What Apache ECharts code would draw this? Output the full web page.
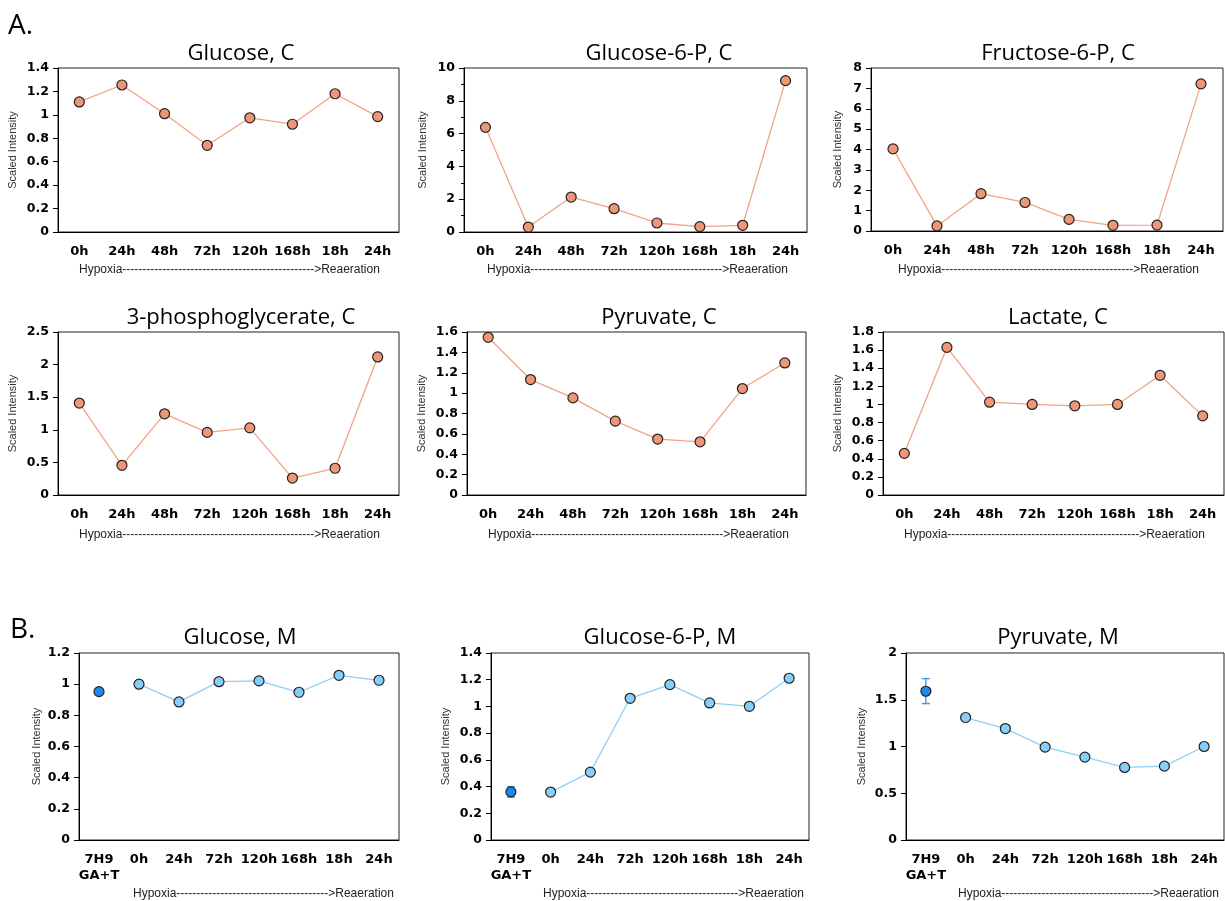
<!DOCTYPE html>
<html><head><meta charset="utf-8">
<script src="https://cdn.jsdelivr.net/npm/echarts@6/dist/echarts.min.js"></script>
<style>html,body{margin:0;padding:0;background:#fff}#c{width:1225px;height:901px}</style>
</head><body><div id="c"></div>
<script>
// ---- data ----
const catsC = ['0h','24h','48h','72h','120h','168h','18h','24h'];
const catsM = ['7H9\nGA+T','0h','24h','72h','120h','168h','18h','24h'];

const glucoseC   = [1.11, 1.255, 1.01, 0.74, 0.975, 0.92, 1.18, 0.985];
const g6pC       = [6.38, 0.30, 2.13, 1.42, 0.55, 0.33, 0.41, 9.23];
const f6pC       = [4.03, 0.25, 1.83, 1.40, 0.57, 0.28, 0.29, 7.22];
const pgaC       = [1.41, 0.455, 1.245, 0.96, 1.03, 0.26, 0.41, 2.117];
const pyruvateC  = [1.548, 1.133, 0.953, 0.725, 0.549, 0.522, 1.045, 1.296];
const lactateC   = [0.46, 1.63, 1.025, 1.0, 0.985, 1.0, 1.322, 0.874];

const glucoseM   = [1.0, 0.886, 1.016, 1.021, 0.948, 1.057, 1.025];
const g6pM       = [0.359, 0.508, 1.061, 1.163, 1.026, 1.001, 1.211];
const pyruvateM  = [1.31, 1.192, 0.993, 0.886, 0.776, 0.79, 1.0];
// 7H9 GA+T reference: [mean, low, high]
const glucoseM7H9  = [0.952, 0.952, 0.952];
const g6pM7H9      = [0.36, 0.32, 0.40];
const pyruvateM7H9 = [1.591, 1.459, 1.726];

const titles = ['Glucose, C','Glucose-6-P, C','Fructose-6-P, C','3-phosphoglycerate, C','Pyruvate, C','Lactate, C','Glucose, M','Glucose-6-P, M','Pyruvate, M'];
const yMax = [1.4, 10, 8, 2.5, 1.6, 1.8, 1.2, 1.4, 2];
const yStep = [0.2, 2, 1, 0.5, 0.2, 0.2, 0.2, 0.2, 0.5];

// ---- layout ----
const grids = [
  {left:58, top:68, width:341, height:164},
  {left:464, top:68, width:343, height:164},
  {left:871, top:68, width:352, height:163},
  {left:58, top:332, width:341, height:163},
  {left:467, top:332, width:339, height:163},
  {left:883, top:332, width:341, height:163},
  {left:79, top:653, width:320, height:187},
  {left:491, top:653, width:318, height:187},
  {left:906, top:653, width:318, height:187}
];
const nameGaps = [40, 36, 28, 40, 40, 40, 37, 40, 39];
const titleX = [236, 654, 1053, 236, 654, 1053, 235, 655, 1053];
const titleTop = [38, 38, 38, 302, 302, 302, 622, 622, 622];

const orangeFill = '#EE9676', orangeLine = '#F2A386';
const blueFill = '#87CEFA', blueLine = '#8ED0F5', darkBlue = '#1E88F0';

const cData = [glucoseC, g6pC, f6pC, pgaC, pyruvateC, lactateC];
const mData = [glucoseM, g6pM, pyruvateM];
const mRef = [glucoseM7H9, g6pM7H9, pyruvateM7H9];

const tickFont = {fontFamily:'DejaVu Sans', fontWeight:'bold', color:'#000'};

const option = {
  animation:false,
  backgroundColor:'#fff',
  title: titles.map((t,i)=>({
    text:t, left:titleX[i], top:titleTop[i], textAlign:'center',
    textStyle:{fontFamily:'Open Sans', fontSize:22, fontWeight:'normal', color:'#000'}
  })),
  grid: grids.map(g=>Object.assign({show:true, borderColor:'#222', borderWidth:1, backgroundColor:'transparent'}, g)),
  xAxis: grids.map((g,i)=>({
    type:'category', gridIndex:i, data: i<6 ? catsC : catsM,
    boundaryGap:true,
    axisLine:{lineStyle:{color:'#000', width:1}},
    axisTick:{alignWithLabel:true, length:5, lineStyle:{color:'#000'}},
    axisLabel:Object.assign({interval:0, fontSize:13, margin:12, lineHeight:16, hideOverlap:false}, tickFont),
    splitLine:{show:false}
  })),
  yAxis: grids.map((g,i)=>({
    type:'value', gridIndex:i, min:0, max:yMax[i], interval:yStep[i],
    name:'Scaled Intensity', nameLocation:'middle', nameRotate:90, nameGap:nameGaps[i],
    nameTextStyle:{fontFamily:'Liberation Sans', fontSize:11, color:'#333'},
    axisLine:{show:true, lineStyle:{color:'#000', width:1}},
    axisTick:{show:true, length:5, lineStyle:{color:'#000'}},
    minorTick: i===1 ? {show:true, splitNumber:2, length:3, lineStyle:{color:'#000'}} : {show:false},
    axisLabel:Object.assign({fontSize:12.5, margin:9}, tickFont),
    splitLine:{show:false}
  })),
  series: [],
  graphic: []
};

cData.forEach((d,i)=>{
  option.series.push({
    type:'line', xAxisIndex:i, yAxisIndex:i, data:d,
    symbol:'circle', symbolSize:10,
    lineStyle:{color:orangeLine, width:1.3},
    itemStyle:{color:orangeFill, borderColor:'#222', borderWidth:1.2},
    z:3
  });
});

function renderErr(params, api){
  const x = api.value(0), lo = api.value(1), hi = api.value(2);
  const pLo = api.coord([x, lo]), pHi = api.coord([x, hi]);
  const w = 4;
  const st = {stroke:'#3a9af2', lineWidth:1.4, fill:null};
  return {type:'group', children:[
    {type:'line', shape:{x1:pLo[0], y1:pLo[1], x2:pHi[0], y2:pHi[1]}, style:st},
    {type:'line', shape:{x1:pLo[0]-w, y1:pLo[1], x2:pLo[0]+w, y2:pLo[1]}, style:st},
    {type:'line', shape:{x1:pHi[0]-w, y1:pHi[1], x2:pHi[0]+w, y2:pHi[1]}, style:st}
  ]};
}

mData.forEach((d,k)=>{
  const i = k+6;
  const r = mRef[k];
  if (r[2] > r[1]) {
    option.series.push({
      type:'custom', xAxisIndex:i, yAxisIndex:i, renderItem:renderErr,
      data:[[0, r[1], r[2]]], encode:{x:0, y:[1,2]}, z:2, silent:true
    });
  }
  option.series.push({
    type:'line', xAxisIndex:i, yAxisIndex:i, data:[r[0]],
    symbol:'circle', symbolSize:10, lineStyle:{width:0},
    itemStyle:{color:darkBlue, borderColor:'#222', borderWidth:1.2}, z:4
  });
  option.series.push({
    type:'line', xAxisIndex:i, yAxisIndex:i, data:['-'].concat(d),
    symbol:'circle', symbolSize:10,
    lineStyle:{color:blueLine, width:1.3},
    itemStyle:{color:blueFill, borderColor:'#222', borderWidth:1.2}, z:3
  });
});

// ---- annotations ----
const arrowLong = 'Hypoxia' + '-'.repeat(48) + '>Reaeration';
const arrowShort = 'Hypoxia' + '-'.repeat(38) + '>Reaeration';
const arrowPos = [[79,270],[487,270],[898,270],[79,535],[488,535],[904,535],[133,894],[543,894],[958,894]];
arrowPos.forEach((p,i)=>{
  option.graphic.push({type:'text', x:p[0], y:p[1], style:{
    text: i<6 ? arrowLong : arrowShort, fontFamily:'Liberation Sans', fontSize:12, fill:'#222',
    align:'left', verticalAlign:'middle'}});
});
option.graphic.push({type:'text', x:8, y:26, style:{text:'A.', fontFamily:'Open Sans', fontSize:28, fill:'#000', verticalAlign:'middle'}});
option.graphic.push({type:'text', x:10, y:630, style:{text:'B.', fontFamily:'Open Sans', fontSize:28, fill:'#000', verticalAlign:'middle'}});

const chart = echarts.init(document.getElementById('c'), null, {renderer:'canvas'});
chart.setOption(option);
</script>
</body></html>
